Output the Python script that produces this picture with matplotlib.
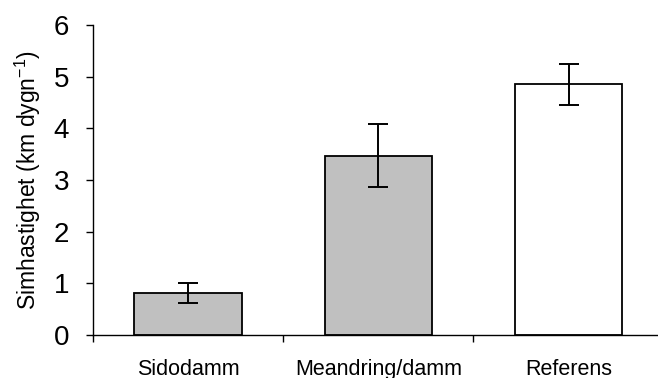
import numpy as np
import matplotlib
matplotlib.use("Agg")
import matplotlib.pyplot as plt

# swimming speed per site type
sites = ["Sidodamm", "Meandring/damm", "Referens"]
speed = [0.81, 3.47, 4.85]
speed_err = [0.20, 0.61, 0.40]
bar_colors = ["#c0c0c0", "#c0c0c0", "#ffffff"]

plt.rcParams["font.family"] = ["Liberation Sans", "DejaVu Sans"]

fig = plt.figure(figsize=(6.58, 3.78), dpi=100)
ax = fig.add_axes([0.1413, 0.1138, 0.8587, 0.8201])

x = np.arange(len(sites))
ax.bar(x, speed, width=0.565, color=bar_colors, edgecolor="black", linewidth=1.3, zorder=2)
ax.errorbar(x, speed, yerr=speed_err, fmt="none", ecolor="black",
            elinewidth=1.4, capsize=7, capthick=1.4, zorder=3)

ax.set_xlim(-0.5, 2.47)
ax.set_ylim(0, 6)
ax.set_yticks(range(0, 7))
ax.tick_params(axis="y", labelsize=20, length=5, width=1, direction="out", pad=12)

# category labels centred, tick marks between categories
ax.set_xticks(x)
ax.set_xticklabels(sites)
ax.tick_params(axis="x", which="major", length=0, labelsize=15.5, pad=17)
ax.set_xticks(np.arange(-0.5, 2.5, 1.0), minor=True)
ax.tick_params(axis="x", which="minor", length=5, width=1, direction="out")

ax.set_ylabel(r"Simhastighet (km dygn$^{\mathregular{-1}}$)", fontsize=16.5, labelpad=8)

for side in ["top", "right"]:
    ax.spines[side].set_visible(False)
for side in ["left", "bottom"]:
    ax.spines[side].set_linewidth(1)

fig.savefig("out.png", dpi=100)
